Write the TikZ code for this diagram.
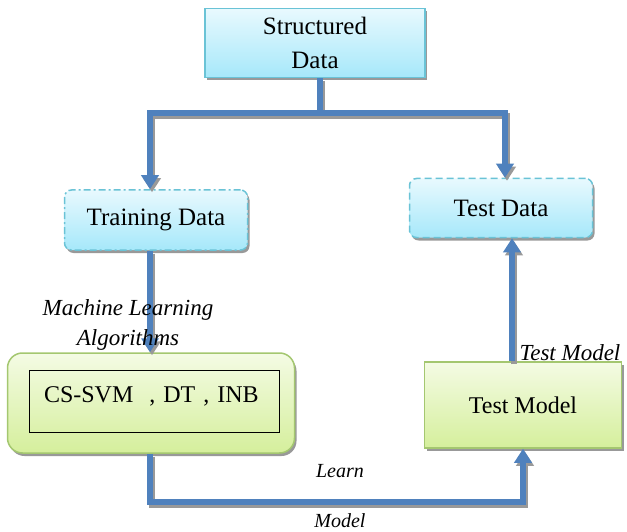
\documentclass[tikz,border=0pt]{standalone}
\usepackage{fontspec}
\setmainfont{Liberation Serif}
\usepackage{tikz}
\usetikzlibrary{calc,arrows.meta,shadows}

\definecolor{linkblue}{HTML}{4F81BD}
\definecolor{aquaedge}{HTML}{6AC3D6}
\definecolor{aquatop}{HTML}{E8F9FE}
\definecolor{aquabot}{HTML}{A6E8FA}
\definecolor{greenedge}{HTML}{A4C770}
\definecolor{greentop}{HTML}{F4FBE4}
\definecolor{greenbot}{HTML}{D5EF9C}

\begin{document}
\begin{tikzpicture}[x=1pt,y=-1pt,
      databox/.style={
            rectangle, draw=aquaedge, line width=1.5pt,
            top color=aquatop, bottom color=aquabot,
            drop shadow={shadow xshift=2pt, shadow yshift=-3pt, fill=black!40, opacity=1},
            font=\fontsize{25}{34}\selectfont, align=center, inner sep=0pt
        },
      modelbox/.style={
            rectangle, draw=greenedge, line width=1.5pt,
            top color=greentop, bottom color=greenbot,
            drop shadow={shadow xshift=2pt, shadow yshift=-3pt, fill=black!40, opacity=1},
            font=\fontsize{24}{32}\selectfont, inner sep=0pt
        },
      link/.style={
            draw=linkblue, line width=5.5pt,
            preaction={draw=black!40, line width=5.5pt,
                transform canvas={xshift=2pt,yshift=-3pt}}
        },
      tip/.style={-{Triangle[width=17pt,length=14pt]}},
      lbl/.style={font=\fontsize{23}{30}\selectfont\itshape, align=center}
      ]
    \useasboundingbox (0,0) rectangle (627,532);

    \node[databox, minimum width=220pt, minimum height=69pt] (sdata) at (315,43) {Structured\\Data};
    \node[databox, rounded corners=7pt, dash pattern=on 7pt off 3pt on 2pt off 3pt,
          minimum width=183pt, minimum height=60pt] (train) at (156,220) {Training Data};
    \node[databox, rounded corners=7pt, dash pattern=on 7pt off 4pt,
          minimum width=183pt, minimum height=59pt] (test) at (501,208) {Test Data};

    \node[modelbox, rounded corners=15pt, minimum width=287pt, minimum height=100pt] (ml) at (151,403) {};
    \node[draw=black, line width=0.8pt, minimum width=250pt, minimum height=62pt,
          text width=220pt, align=left, text depth=12pt, inner xsep=15pt,
          font=\fontsize{24}{32}\selectfont] (algo) at (154,401) {CS-SVM\ \ , DT , INB};
    \node[modelbox, minimum width=197pt, minimum height=86pt] (tmodel) at (523,405) {Test Model};

    \coordinate (split) at (320,113);
    \coordinate (low) at (150,502);

    \draw[link] ([xshift=5pt]sdata.south) -- (split);
    \draw[link,tip] (split) -| ([xshift=-6pt]train.north);
    \draw[link,tip] (split) -| ([xshift=4pt]test.north);
    \draw[link,tip] ([xshift=-6pt]train.south) -- ([xshift=-1pt]ml.north);
    \draw[link,tip] ([xshift=-1pt]ml.south) -- (low) -| (tmodel.south);
    \draw[link,tip] ([xshift=-11pt]tmodel.north) -- ([xshift=11pt]test.south);

    \node[lbl] (mlalg) at (128,325) {Machine Learning\\Algorithms};
    \node[lbl] (tmlbl) at (570,353) {Test Model};
    \node[lbl, font=\fontsize{20}{26}\selectfont\itshape] (learn) at (340,471) {Learn};
    \node[lbl, font=\fontsize{20}{26}\selectfont\itshape] (model) at (340,521) {Model};
  \end{tikzpicture}
\end{document}
